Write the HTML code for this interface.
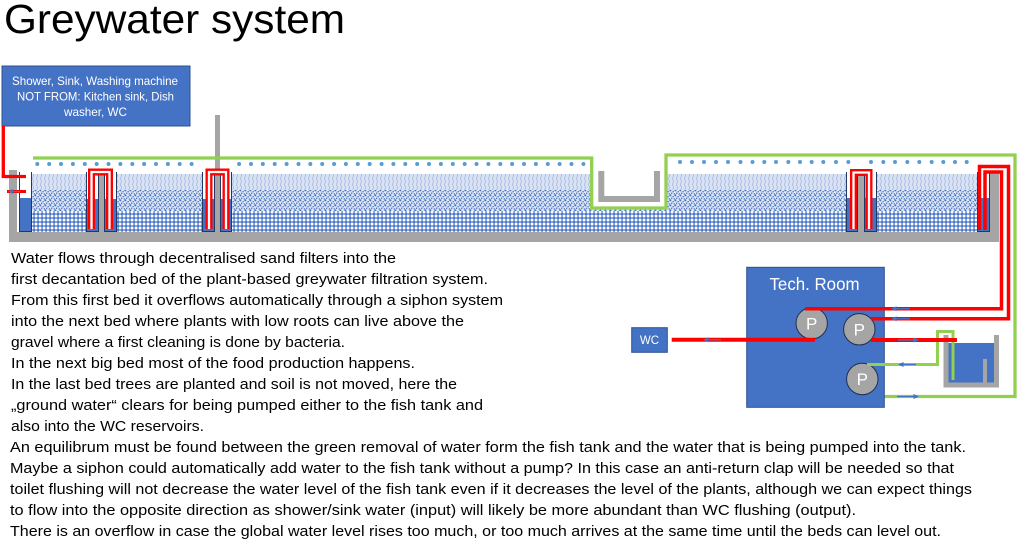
<!DOCTYPE html>
<html><head><meta charset="utf-8">
<style>
html,body{margin:0;padding:0;background:#fff;width:1024px;height:546px;overflow:hidden}
svg{display:block}
text{font-family:"Liberation Sans",Arial,sans-serif}
</style></head>
<body>
<svg width="1024" height="546" viewBox="0 0 1024 546" xmlns="http://www.w3.org/2000/svg">
<defs>
<pattern id="hatch" width="4" height="6" patternUnits="userSpaceOnUse">
 <rect width="4" height="6" fill="#D9E2F3"/>
 <path d="M1,0 Q2.2,1.5 1,3 Q-0.2,4.5 1,6" stroke="#A9BEE6" stroke-width="0.9" fill="none"/>
</pattern>
<pattern id="speck" width="5" height="5" patternUnits="userSpaceOnUse">
 <rect width="5" height="5" fill="#E0E7F5"/>
 <rect x="0" y="0" width="1.3" height="1.3" fill="#4472C4"/>
 <rect x="2.5" y="1" width="1.3" height="1.3" fill="#4472C4"/>
 <rect x="1" y="2.6" width="1.3" height="1.3" fill="#4472C4"/>
 <rect x="3.7" y="3.3" width="1.3" height="1.3" fill="#4472C4"/>
 <rect x="0.2" y="4.2" width="1" height="0.8" fill="#4472C4"/>
 <rect x="4" y="0.2" width="0.9" height="0.9" fill="#5B84CC"/>
</pattern>
<pattern id="plaid" width="4" height="4" patternUnits="userSpaceOnUse">
 <rect width="4" height="4" fill="#fff"/>
 <rect x="0.2" y="1.3" width="3.6" height="1.5" fill="#4472C4"/>
 <rect x="1.3" y="0.2" width="1.5" height="3.6" fill="#4472C4"/>
</pattern>
</defs>

<!-- Title -->
<text x="4" y="33" font-size="41" fill="#000" textLength="341" lengthAdjust="spacingAndGlyphs">Greywater system</text>

<!-- Source box -->
<rect x="2" y="66" width="188" height="60" fill="#4472C4" stroke="#2F528F" stroke-width="1"/>
<g fill="#fff" font-size="12">
<text x="12" y="85" textLength="166" lengthAdjust="spacingAndGlyphs">Shower, Sink, Washing machine</text>
<text x="17" y="100.5" textLength="157" lengthAdjust="spacingAndGlyphs">NOT FROM: Kitchen sink, Dish</text>
<text x="64" y="116" textLength="63" lengthAdjust="spacingAndGlyphs">washer, WC</text>
</g>

<!-- Bed layers -->
<rect x="19" y="174" width="971" height="16" fill="url(#hatch)"/>
<rect x="19" y="190" width="971" height="21" fill="url(#speck)"/>
<rect x="19" y="211" width="971" height="21" fill="url(#plaid)"/>
<!-- notch white -->
<rect x="592" y="157" width="74" height="51" fill="#fff"/>

<!-- Gray structure -->
<rect x="9" y="232" width="990" height="10" fill="#A5A5A5"/>
<rect x="9" y="170" width="8" height="72" fill="#A5A5A5"/>
<rect x="990" y="171" width="9" height="71" fill="#A5A5A5"/>
<path d="M601.3,171 V199 H657 V171" stroke="#A5A5A5" stroke-width="6" fill="none"/>

<!-- Chambers -->
<g stroke="none">
<rect x="19" y="172" width="13" height="60" fill="#fff"/>
<rect x="19" y="198" width="13" height="34" fill="#4472C4"/>
<rect x="86" y="172" width="13" height="60" fill="#fff"/>
<rect x="86" y="199" width="13" height="33" fill="#4472C4"/>
<rect x="104" y="172" width="13" height="60" fill="#fff"/>
<rect x="104" y="199" width="13" height="33" fill="#4472C4"/>
<rect x="202" y="172" width="13" height="60" fill="#fff"/>
<rect x="202" y="199" width="13" height="33" fill="#4472C4"/>
<rect x="220" y="172" width="12" height="60" fill="#fff"/>
<rect x="220" y="199" width="12" height="33" fill="#4472C4"/>
<rect x="846" y="172" width="12" height="60" fill="#fff"/>
<rect x="846" y="198" width="12" height="34" fill="#4472C4"/>
<rect x="864" y="172" width="13" height="60" fill="#fff"/>
<rect x="864" y="198" width="13" height="34" fill="#4472C4"/>
<rect x="977" y="172" width="13" height="60" fill="#fff"/>
<rect x="977" y="198" width="13" height="34" fill="#4472C4"/>
</g>
<g stroke="#1F3864" stroke-width="1" fill="none">
<path d="M19.5,172 V231.5 H31.5 V172"/>
<path d="M86.5,172 V231.5 H98.5 V172"/>
<path d="M104.5,172 V231.5 H116.5 V172"/>
<path d="M202.5,172 V231.5 H214.5 V172"/>
<path d="M220.5,172 V231.5 H231.5 V172"/>
<path d="M846.5,172 V231.5 H857.5 V172"/>
<path d="M864.5,172 V231.5 H876.5 V172"/>
<path d="M977.5,172 V231.5 H989.5 V172"/>
</g>
<!-- dividers -->
<rect x="99" y="175" width="5" height="57" fill="#A5A5A5"/>
<rect x="858" y="173" width="6" height="59" fill="#A5A5A5"/>
<rect x="215" y="115" width="5" height="117" fill="#A5A5A5"/>

<!-- Siphons -->
<g fill="none" stroke-linejoin="miter">
<path d="M91.5,229 V172 H109.5 V229" stroke="#FF0000" stroke-width="7"/>
<path d="M91.5,229 V172 H109.5 V229" stroke="#fff" stroke-width="2.3"/>
<path d="M209,229 V172 H226 V229" stroke="#FF0000" stroke-width="7"/>
<path d="M209,229 V172 H226 V229" stroke="#fff" stroke-width="2.3"/>
<path d="M853.5,229 V172.5 H869 V229" stroke="#FF0000" stroke-width="7"/>
<path d="M853.5,229 V172.5 H869 V229" stroke="#fff" stroke-width="2.3"/>
</g>

<!-- Inlet red pipes -->
<path d="M3.3,126 V176.5 H26" stroke="#FF0000" stroke-width="3.3" fill="none"/>
<path d="M7,191.5 H26" stroke="#FF0000" stroke-width="3" fill="none"/>

<!-- Green line -->
<path d="M33,158 H591.7 V208 H666 V155 H1015 V396.5 H859" stroke="#92D050" stroke-width="3.3" fill="none"/>

<!-- Dots -->
<g fill="#5B9BD5">
<circle cx="37.3" cy="164" r="2"/><circle cx="49.2" cy="164" r="2"/><circle cx="61" cy="164" r="2"/><circle cx="72.9" cy="164" r="2"/><circle cx="84.8" cy="164" r="2"/><circle cx="96.7" cy="164" r="2"/><circle cx="108.5" cy="164" r="2"/><circle cx="120.4" cy="164" r="2"/><circle cx="132.3" cy="164" r="2"/><circle cx="144.1" cy="164" r="2"/><circle cx="156" cy="164" r="2"/><circle cx="167.9" cy="164" r="2"/><circle cx="179.7" cy="164" r="2"/><circle cx="191.6" cy="164" r="2"/>
<circle cx="239.1" cy="164" r="2"/><circle cx="251" cy="164" r="2"/><circle cx="262.8" cy="164" r="2"/><circle cx="274.7" cy="164" r="2"/><circle cx="286.6" cy="164" r="2"/><circle cx="298.5" cy="164" r="2"/><circle cx="310.3" cy="164" r="2"/><circle cx="322.2" cy="164" r="2"/><circle cx="334.1" cy="164" r="2"/><circle cx="345.9" cy="164" r="2"/><circle cx="357.8" cy="164" r="2"/><circle cx="369.7" cy="164" r="2"/><circle cx="381.6" cy="164" r="2"/><circle cx="393.4" cy="164" r="2"/><circle cx="405.3" cy="164" r="2"/><circle cx="417.2" cy="164" r="2"/><circle cx="429" cy="164" r="2"/><circle cx="440.9" cy="164" r="2"/><circle cx="452.8" cy="164" r="2"/><circle cx="464.7" cy="164" r="2"/><circle cx="476.5" cy="164" r="2"/><circle cx="488.4" cy="164" r="2"/><circle cx="500.3" cy="164" r="2"/><circle cx="512.1" cy="164" r="2"/><circle cx="524" cy="164" r="2"/><circle cx="535.9" cy="164" r="2"/><circle cx="547.8" cy="164" r="2"/><circle cx="559.6" cy="164" r="2"/><circle cx="571.5" cy="164" r="2"/><circle cx="583.4" cy="164" r="2"/>
<circle cx="680" cy="162" r="2"/><circle cx="692" cy="162" r="2"/><circle cx="704" cy="162" r="2"/><circle cx="716" cy="162" r="2"/><circle cx="728" cy="162" r="2"/><circle cx="740.5" cy="162" r="2"/><circle cx="752.5" cy="162" r="2"/><circle cx="764.3" cy="162" r="2"/><circle cx="776" cy="162" r="2"/><circle cx="788.3" cy="162" r="2"/><circle cx="800" cy="162" r="2"/><circle cx="811.7" cy="162" r="2"/><circle cx="823.3" cy="162" r="2"/><circle cx="836" cy="162" r="2"/><circle cx="848.3" cy="162" r="2"/>
<circle cx="871" cy="162" r="2"/><circle cx="883.3" cy="162" r="2"/><circle cx="895" cy="162" r="2"/><circle cx="907.3" cy="162" r="2"/><circle cx="919.3" cy="162" r="2"/><circle cx="931.7" cy="162" r="2"/><circle cx="943.3" cy="162" r="2"/><circle cx="955" cy="162" r="2"/><circle cx="966.7" cy="162" r="2"/>
</g>

<!-- Tech room -->
<rect x="746.7" y="267.3" width="137.6" height="140" fill="#4472C4" stroke="#2F528F" stroke-width="1"/>
<text x="769.5" y="290" font-size="17.5" fill="#fff" textLength="90" lengthAdjust="spacingAndGlyphs">Tech. Room</text>

<!-- Pumps -->
<g fill="#A5A5A5" stroke="#1F2F4F" stroke-width="1">
<circle cx="811.7" cy="323.3" r="15.7"/>
<circle cx="859.3" cy="329.3" r="15.7"/>
<circle cx="862.3" cy="379" r="15.7"/>
</g>
<g fill="#fff" font-size="17" text-anchor="middle">
<text x="811.7" y="329.5">P</text>
<text x="859.3" y="335.5">P</text>
<text x="862.3" y="385.2">P</text>
</g>

<!-- WC box -->
<rect x="631.7" y="327.7" width="35.6" height="24.6" fill="#4472C4" stroke="#2F528F" stroke-width="1"/>
<text x="649.5" y="344" font-size="11.5" fill="#fff" text-anchor="middle">WC</text>

<!-- Fish tank -->
<rect x="948.5" y="343" width="45.5" height="40" fill="#4472C4"/>
<path d="M946,335 V385 H996.5 V335" stroke="#A5A5A5" stroke-width="5" fill="none"/>
<rect x="983" y="359" width="4" height="24" fill="#A5A5A5"/>
<path d="M867,364.5 H937.5 V331.5 H953 V380" stroke="#92D050" stroke-width="3" fill="none"/>

<!-- Red lines (right pipe + tech room) -->
<g fill="none" stroke="#FF0000">
<path d="M979.5,230 V166.5 H1008.5 V318.7 H871" stroke-width="3.5"/>
<path d="M985,230 V172 H1001.5 V308.7 H805" stroke-width="3.5"/>
<path d="M671.7,339.7 H815" stroke-width="4"/>
<path d="M871,340 H957" stroke-width="4"/>
</g>

<!-- Arrows -->
<g stroke="#4472C4" stroke-width="1.3" fill="none">
<path d="M12,191.5 H20"/>
<path d="M708,339.7 H721"/>
<path d="M896,308.7 H910"/>
<path d="M896,318.7 H910"/>
<path d="M898,340 H914"/>
<path d="M903,364.5 H916"/>
<path d="M897,396.5 H914"/>
</g>
<g fill="#4472C4">
<polygon points="8,191.5 13,189 13,194"/>
<polygon points="703,339.7 708.5,337.2 708.5,342.2"/>
<polygon points="891,308.7 896.5,306.2 896.5,311.2"/>
<polygon points="891,318.7 896.5,316.2 896.5,321.2"/>
<polygon points="919,340 913.5,337.5 913.5,342.5"/>
<polygon points="898,364.5 903.5,362 903.5,367"/>
<polygon points="919,396.5 913.5,394 913.5,399"/>
</g>

<!-- Body text -->
<g font-size="14.5" fill="#000">
<text x="11" y="263" textLength="385" lengthAdjust="spacingAndGlyphs">Water flows through decentralised sand filters into the</text>
<text x="11" y="284" textLength="477" lengthAdjust="spacingAndGlyphs">first decantation bed of the plant-based greywater filtration system.</text>
<text x="11" y="305" textLength="492" lengthAdjust="spacingAndGlyphs">From this first bed it overflows automatically through a siphon system</text>
<text x="11" y="326" textLength="453" lengthAdjust="spacingAndGlyphs">into the next bed where plants with low roots can live above the</text>
<text x="11" y="347" textLength="334" lengthAdjust="spacingAndGlyphs">gravel where a first cleaning is done by bacteria.</text>
<text x="11" y="368" textLength="404" lengthAdjust="spacingAndGlyphs">In the next big bed most of the food production happens.</text>
<text x="11" y="389" textLength="446" lengthAdjust="spacingAndGlyphs">In the last bed trees are planted and soil is not moved, here the</text>
<text x="11" y="410" textLength="472" lengthAdjust="spacingAndGlyphs">„ground water“ clears for being pumped either to the fish tank and</text>
<text x="11" y="431" textLength="193" lengthAdjust="spacingAndGlyphs">also into the WC reservoirs.</text>
<text x="10" y="452" textLength="956" lengthAdjust="spacingAndGlyphs">An equilibrum must be found between the green removal of water form the fish tank and the water that is being pumped into the tank.</text>
<text x="10" y="473" textLength="944" lengthAdjust="spacingAndGlyphs">Maybe a siphon could automatically add water to the fish tank without a pump? In this case an anti-return clap will be needed so that</text>
<text x="10" y="494" textLength="962" lengthAdjust="spacingAndGlyphs">toilet flushing will not decrease the water level of the fish tank even if it decreases the level of the plants, although we can expect things</text>
<text x="10" y="515" textLength="846" lengthAdjust="spacingAndGlyphs">to flow into the opposite direction as shower/sink water (input) will likely be more abundant than WC flushing (output).</text>
<text x="10" y="536" textLength="931" lengthAdjust="spacingAndGlyphs">There is an overflow in case the global water level rises too much, or too much arrives at the same time until the beds can level out.</text>
</g>
</svg>
</body></html>
